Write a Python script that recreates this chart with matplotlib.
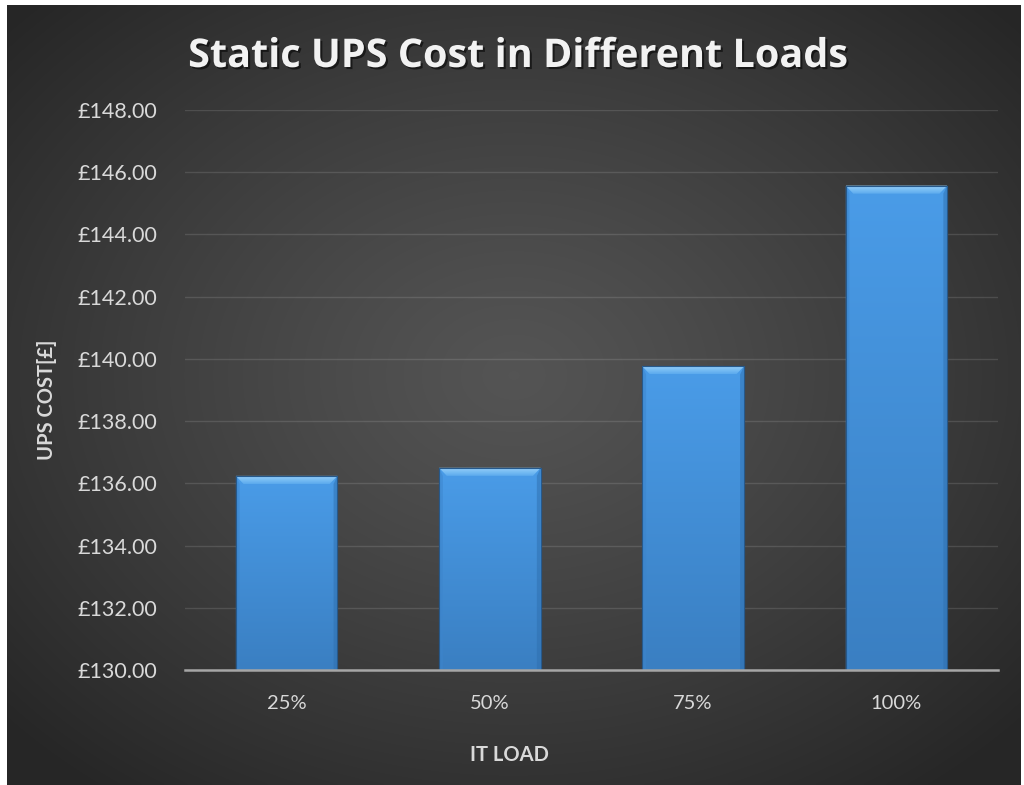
import numpy as np
import matplotlib.pyplot as plt
import matplotlib.patheffects as pe
from matplotlib.patches import Polygon, Rectangle
from matplotlib.ticker import FuncFormatter

# ---------------------------------------------------------------------------
# Data
# ---------------------------------------------------------------------------
loads = ["25%", "50%", "75%", "100%"]
ups_cost = [136.24, 136.50, 139.76, 145.57]
y_ticks = [130, 132, 134, 136, 138, 140, 142, 144, 146, 148]

FONT = ["Lato", "DejaVu Sans"]
TXT = "#d9d9d9"

fig = plt.figure(figsize=(10.24, 7.85), dpi=100, facecolor="white")

# ----- dark radial-gradient chart area -----
W, H = 1024, 785
x0, y0, x1, y1 = 7, 0, 1021, 780  # pixel box (y from bottom)
bg = fig.add_axes([x0 / W, y0 / H, (x1 - x0) / W, (y1 - y0) / H], zorder=0)
gx, gy = np.meshgrid(np.linspace(-1, 1, 400), np.linspace(-1, 1, 300))
r = np.sqrt(gx ** 2 + (gy + 0.05) ** 2)
r = np.clip(r / 1.35, 0, 1)
lev = 0.33 - 0.18 * r ** 1.2
bg.imshow(np.dstack([lev, lev, lev]), aspect="auto", extent=[0, 1, 0, 1],
          interpolation="bilinear")
bg.set_xlim(0, 1); bg.set_ylim(0, 1); bg.axis("off")

# ----- main plot axes -----
ax = fig.add_axes([185 / W, 1 - 670 / H, (998 - 185) / W, (670 - 110) / H], zorder=1)
ax.patch.set_alpha(0)
xs = np.arange(len(loads))
bars = ax.bar(xs, [v - 130 for v in ups_cost], bottom=130, width=0.5,
              color="#4592dc", edgecolor="#2a5f94", linewidth=0.8, zorder=2)

# vertical gradient + top bevel on each bar
grad = np.linspace(0, 1, 100)[:, None]
top_c = np.array([0x4a, 0x9c, 0xe8]) / 255
bot_c = np.array([0x3a, 0x7f, 0xc2]) / 255
img = top_c[None, None, :] * (1 - grad[..., None]) + bot_c[None, None, :] * grad[..., None]
img = np.repeat(img, 2, axis=1)
bev_y = 0.26   # ~8 px
bev_x = 0.038
bev = np.linspace(0, 1, 20)[:, None]
bev_img = (np.array([0x9a, 0xd2, 0xfa]) / 255)[None, None, :] * (1 - bev[..., None]) \
    + (np.array([0x5c, 0xab, 0xee]) / 255)[None, None, :] * bev[..., None]
bev_img = np.repeat(bev_img, 2, axis=1)
for b, v in zip(bars, ups_cost):
    bx, bw = b.get_x(), b.get_width()
    im = ax.imshow(img, extent=[bx, bx + bw, 130, v], aspect="auto",
                   zorder=2.5, interpolation="bilinear")
    im.set_clip_path(b)
    top = Polygon([(bx, v), (bx + bw, v), (bx + bw - bev_x, v - bev_y),
                   (bx + bev_x, v - bev_y)], closed=True,
                  facecolor="none", edgecolor="none", zorder=3)
    ax.add_patch(top)
    bim = ax.imshow(bev_img, extent=[bx, bx + bw, v - bev_y, v], aspect="auto",
                    zorder=3, interpolation="bilinear")
    bim.set_clip_path(top)
    ax.add_patch(Polygon([(bx, v), (bx + bev_x * 0.5, v - bev_y), (bx + bev_x * 0.5, 130),
                          (bx, 130)], closed=True,
                         facecolor="#3d85cc", edgecolor="none", alpha=0.5, zorder=3))
    ax.add_patch(Polygon([(bx + bw, v), (bx + bw - bev_x * 0.5, v - bev_y),
                          (bx + bw - bev_x * 0.5, 130), (bx + bw, 130)], closed=True,
                         facecolor="#2f6fae", edgecolor="none", alpha=0.5, zorder=3))
    ax.add_patch(Rectangle((bx, 130), bw, v - 130, facecolor="none",
                           edgecolor="#27598b", linewidth=0.8, zorder=3.5))

ax.set_xlim(-0.5, len(loads) - 0.5)
ax.set_ylim(130, 148)
ax.set_yticks(y_ticks)
ax.yaxis.set_major_formatter(FuncFormatter(lambda v, _: f"£{v:.2f}"))
ax.set_xticks(xs)
ax.set_xticklabels(loads)
ax.grid(axis="y", color="#ffffff", alpha=0.12, linewidth=1.0, zorder=1)
ax.set_axisbelow(True)
for s in ["top", "right", "left"]:
    ax.spines[s].set_visible(False)
ax.spines["bottom"].set_color("#a6a6a6")
ax.spines["bottom"].set_linewidth(1.8)
ax.spines["bottom"].set_zorder(4)
ax.tick_params(length=0, colors=TXT, labelsize=15.5, pad=20)
ax.tick_params(axis="x", labelsize=14.5, pad=18)
for lab in ax.get_xticklabels() + ax.get_yticklabels():
    lab.set_family(FONT)

fig.text(509 / W, 1 - 755 / H, "IT LOAD", ha="center", va="center",
         color=TXT, fontsize=14.5, fontweight="bold", family=FONT)
fig.text(47 / W, 1 - 400 / H, "UPS COST[£]", ha="center", va="center",
         rotation=90, color=TXT, fontsize=14.5, fontweight="bold", family=FONT)

fig.text(518 / W, 1 - 67 / H, "Static UPS Cost in Different Loads", ha="center",
         va="baseline", color="#f2f2f2", fontsize=28.5, fontweight="bold",
         family=["Open Sans", "DejaVu Sans"],
         path_effects=[pe.withSimplePatchShadow(offset=(1.5, -1.5),
                                                shadow_rgbFace="black", alpha=0.55)])

fig.savefig("out.png", dpi=100, facecolor="white")
